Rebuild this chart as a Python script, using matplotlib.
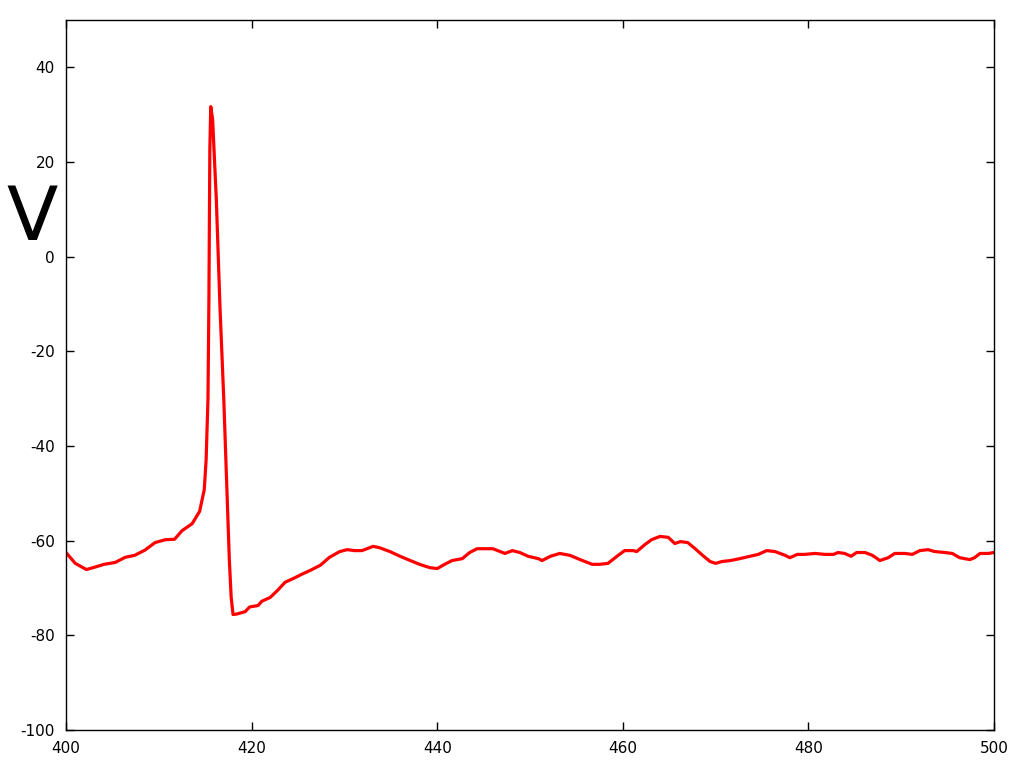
import matplotlib
matplotlib.use("Agg")
import matplotlib.pyplot as plt

plt.rcParams['axes.unicode_minus'] = False

# membrane voltage trace (time, V)
t = [400.0, 401.0, 402.2, 403.1, 404.1, 405.3, 406.4, 407.4, 408.5, 409.6,
     410.7, 411.7, 412.5, 413.6, 414.4, 414.9, 415.1, 415.3, 415.4, 415.5,
     415.6, 415.8, 416.2, 416.6, 417.0, 417.3, 417.6, 417.8, 418.0, 418.4,
     419.3, 419.8, 420.7, 421.1, 422.0, 422.8, 423.6, 424.7, 425.4, 426.3,
     427.4, 428.4, 429.5, 430.3, 431.1, 431.9, 433.1, 433.8, 434.9, 436.0,
     437.1, 438.1, 439.2, 440.0, 440.8, 441.6, 442.7, 443.5, 444.3, 445.2,
     446.0, 447.3, 448.1, 448.9, 449.8, 450.9, 451.3, 452.2, 453.2, 454.3,
     455.4, 456.7, 457.5, 458.4, 459.5, 460.2, 461.1, 461.5, 462.4, 463.1,
     464.0, 464.9, 465.6, 466.2, 467.0, 467.8, 468.6, 469.4, 470.0, 470.7,
     471.6, 472.6, 473.7, 474.6, 475.5, 476.4, 477.5, 478.0, 478.8, 479.6,
     480.7, 481.8, 482.7, 483.2, 483.9, 484.6, 485.2, 486.1, 486.9, 487.7,
     488.6, 489.3, 490.4, 491.2, 492.0, 492.9, 493.6, 494.7, 495.5, 496.3,
     497.4, 497.9, 498.5, 499.4, 500.0]
v = [-62.5, -64.8, -66.1, -65.6, -65.0, -64.6, -63.5, -63.1, -62.0, -60.4,
     -59.8, -59.7, -57.9, -56.4, -53.8, -49.2, -42.9, -30.0, -9.0, 22.6,
     31.7, 29.0, 12.0, -11.0, -30.0, -47.0, -64.0, -72.0, -75.6, -75.5,
     -75.0, -74.0, -73.7, -72.8, -72.0, -70.5, -68.8, -67.8, -67.1, -66.3,
     -65.2, -63.5, -62.3, -61.9, -62.1, -62.1, -61.2, -61.5, -62.3, -63.3,
     -64.2, -65.0, -65.7, -65.9, -65.0, -64.2, -63.8, -62.5, -61.7, -61.7,
     -61.7, -62.7, -62.1, -62.5, -63.3, -63.8, -64.2, -63.3, -62.7, -63.1,
     -64.0, -65.0, -65.0, -64.8, -63.1, -62.1, -62.1, -62.3, -60.8, -59.8,
     -59.1, -59.3, -60.6, -60.2, -60.4, -61.7, -63.1, -64.4, -64.8, -64.4,
     -64.2, -63.8, -63.3, -62.9, -62.1, -62.3, -63.1, -63.6, -62.9, -62.9,
     -62.7, -62.9, -62.9, -62.5, -62.7, -63.3, -62.5, -62.5, -63.1, -64.2,
     -63.6, -62.7, -62.7, -62.9, -62.1, -61.9, -62.3, -62.5, -62.7, -63.6,
     -64.0, -63.6, -62.7, -62.7, -62.5]

fig = plt.figure(figsize=(10.24, 7.68), dpi=100)
ax = fig.add_axes([66/1024, 38/768, 928/1024, 710/768])

ax.plot(t, v, color='red', lw=2.3)

ax.set_xlim(400, 500)
ax.set_ylim(-100, 50)
ax.set_xticks(range(400, 501, 20))
ax.set_yticks(range(-100, 41, 20))
ax.tick_params(direction='in', length=6, width=1, top=True, right=True,
               labelsize=11, pad=8)
for s in ax.spines.values():
    s.set_linewidth(1)

fig.text(32/1024, 1 - 219/768, 'V', fontsize=54, ha='center', va='center')

plt.savefig('out.png', dpi=100)
